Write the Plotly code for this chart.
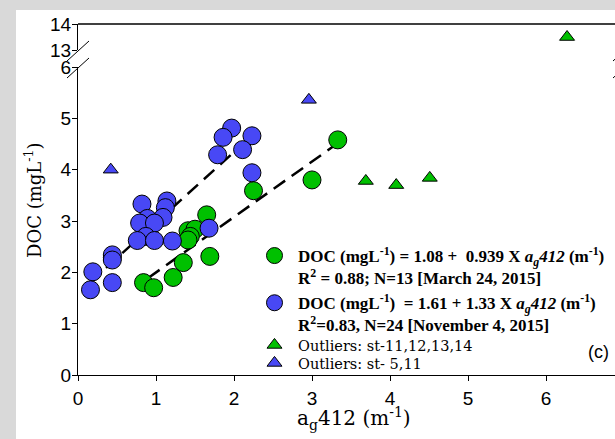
import plotly.graph_objects as go

# ---------------- data ----------------
green_x = [3.33, 3.00, 2.25, 1.65, 1.41, 1.50, 1.44, 1.41, 1.69, 1.35, 1.22, 0.84, 0.97]
green_y = [4.58, 3.80, 3.59, 3.12, 2.81, 2.84, 2.70, 2.63, 2.31, 2.19, 1.90, 1.80, 1.70]

blue_x = [0.44, 1.97, 1.86, 2.23, 2.11, 1.79, 2.23, 0.82, 1.14, 1.12, 0.89, 1.09, 0.79,
          0.98, 0.87, 0.76, 0.98, 1.21, 1.68, 0.44, 0.44, 0.19, 0.44, 0.16]
blue_y = [2.29, 4.81, 4.63, 4.66, 4.39, 4.29, 3.94, 3.33, 3.39, 3.26, 3.05, 3.07, 2.96,
          2.96, 2.70, 2.62, 2.62, 2.61, 2.86, 2.34, 2.24, 2.01, 1.80, 1.66]

green_out_x = [3.69, 4.08, 4.51]
green_out_y = [3.78, 3.70, 3.84]
green_out_hi_x = [6.27]
green_out_hi_y = [13.5]

blue_out_x = [0.42, 2.96]
blue_out_y = [4.00, 5.36]

green_fit_x = [0.90, 3.27]
green_fit_y = [1.89, 4.45]
blue_fit_x = [0.15, 1.99]
blue_fit_y = [1.80, 4.33]

x_ticks = [0, 1, 2, 3, 4, 5, 6]
y_ticks_low = [0, 1, 2, 3, 4, 5, 6]
y_ticks_high = [13, 14]

GREEN = "#00C000"
BLUE = "#4848F5"
SERIF = "Liberation Serif"
TSERIF = "DejaVu Serif"
SANS = "Liberation Sans"

W, H = 615, 439
L, R, T, B = 78, 0, 24, 64
PW, PH = W - L - R, H - T - B

lo_top = (375 - 67) / PH
hi_bot = (375 - 50) / PH

fig = go.Figure()

# regression lines
for fx, fy in [(green_fit_x, green_fit_y), (blue_fit_x, blue_fit_y)]:
    fig.add_trace(go.Scatter(x=fx, y=fy, mode="lines",
                             line=dict(color="black", width=2.5, dash="14px,8px"),
                             showlegend=False, hoverinfo="skip"))

circ = dict(size=18, line=dict(color="black", width=1))
tri = dict(size=13, symbol="triangle-up", line=dict(color="black", width=1))

fig.add_trace(go.Scatter(
    x=green_x, y=green_y, mode="markers", marker=dict(color=GREEN, **circ),
    name="<b>DOC (mgL<sup>-1</sup>) = 1.08 +  0.939 X <i>a<sub>g</sub>412</i> (m<sup>-1</sup>)</b><br>"
         "<b>R<sup>2</sup> = 0.88; N=13 [March 24, 2015]</b>"))
fig.add_trace(go.Scatter(
    x=blue_x, y=blue_y, mode="markers", marker=dict(color=BLUE, **circ),
    name="<b>DOC (mgL<sup>-1</sup>)  = 1.61 + 1.33 X <i>a<sub>g</sub>412</i> (m<sup>-1</sup>)</b><br>"
         "<b>R<sup>2</sup>=0.83, N=24 [November 4, 2015]</b>"))
fig.add_trace(go.Scatter(
    x=green_out_x, y=green_out_y, mode="markers", marker=dict(color=GREEN, **tri),
    legendgroup="go", name="Outliers: st-11,12,13,14", legend="legend2"))
fig.add_trace(go.Scatter(
    x=green_out_hi_x, y=green_out_hi_y, yaxis="y2", mode="markers",
    marker=dict(color=GREEN, **tri), legendgroup="go", showlegend=False, legend="legend2"))
fig.add_trace(go.Scatter(
    x=blue_out_x, y=blue_out_y, mode="markers", marker=dict(color=BLUE, **tri),
    name="Outliers: st- 5,11", legend="legend3"))

tickfont = dict(family=SANS, size=19, color="black")
common = dict(ticks="outside", ticklen=5, tickcolor="black", showline=True,
              linecolor="black", linewidth=1, showgrid=False, zeroline=False,
              tickfont=tickfont)
small_legend = dict(xanchor="left", yanchor="top", bgcolor="rgba(0,0,0,0)",
                    font=dict(family=TSERIF, size=14.5, color="black"),
                    tracegroupgap=0, itemwidth=37)
fig.update_layout(
    width=W, height=H,
    margin=dict(l=L, r=R, t=T, b=B),
    paper_bgcolor="#D9D9D9",
    plot_bgcolor="white",
    xaxis=dict(range=[0, PW / 78.0], tickvals=x_ticks, anchor="y",
               ticklabelstandoff=1, **common),
    yaxis=dict(domain=[0, lo_top], range=[0, 6], tickvals=y_ticks_low,
               ticklabelstandoff=-3, **common),
    yaxis2=dict(domain=[hi_bot, 1], range=[13, 14], tickvals=y_ticks_high,
                anchor="x", ticklabelstandoff=-3, **common),
    legend=dict(x=(251 - L) / PW, y=(375 - 238) / PH, xanchor="left", yanchor="top",
                bgcolor="rgba(0,0,0,0)", font=dict(family=SERIF, size=17, color="black"),
                valign="top", tracegroupgap=0, itemwidth=37),
    legend2=dict(x=(251 - L) / PW, y=(375 - 329) / PH, **small_legend),
    legend3=dict(x=(251 - L) / PW, y=(375 - 347) / PH, **small_legend),
    showlegend=True,
)

# white panel behind the plot, inside the grey frame
fig.add_shape(type="rect", xref="paper", yref="paper", layer="below",
              x0=(16 - L) / PW, x1=1.1, y0=-B / PH - 0.1, y1=(375 - 10) / PH,
              fillcolor="white", line=dict(width=0))
# top frame line
fig.add_shape(type="line", xref="paper", yref="paper", x0=0, x1=1.1, y0=1, y1=1,
              line=dict(color="black", width=1.3))


def px(xp):
    return (xp - L) / PW


def py(yp):
    return (375 - yp) / PH


# axis-break slashes
for (x0, y0, x1, y1) in [(67, 61, 89, 41), (67, 78, 89, 58),
                         (613, 61, 635, 41), (613, 78, 635, 58)]:
    fig.add_shape(type="line", xref="paper", yref="paper",
                  x0=px(x0), y0=py(y0), x1=px(x1), y1=py(y1),
                  line=dict(color="black", width=1))

fig.add_annotation(xref="paper", yref="paper", x=px(33), y=py(200), text="DOC (mgL<sup>-1</sup>)",
                   xanchor="center", yanchor="middle",
                   textangle=-90, showarrow=False, font=dict(family=TSERIF, size=18, color="black"))
fig.add_annotation(xref="paper", yref="paper", x=px(354), y=py(418),
                   xanchor="center", yanchor="middle",
                   text="a<sub>g</sub>412 (m<sup>-1</sup>)",
                   showarrow=False, font=dict(family=TSERIF, size=20, color="black"))
fig.add_annotation(xref="paper", yref="paper", x=px(598), y=py(352), text="(c)",
                   xanchor="center", yanchor="middle",
                   showarrow=False, font=dict(family=SANS, size=18, color="black"))

fig.write_html("out.html")
